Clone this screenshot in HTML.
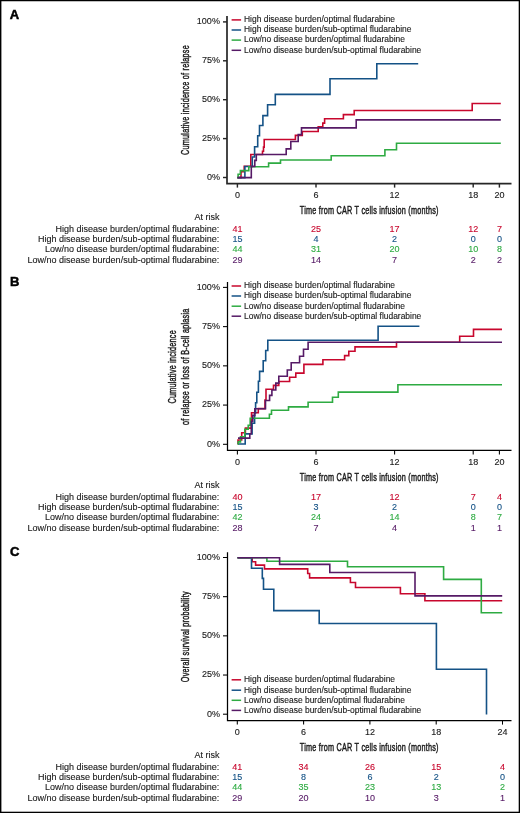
<!DOCTYPE html><html><head><meta charset="utf-8"><style>html,body{margin:0;padding:0;background:#fff;}svg{display:block;}</style></head><body>
<svg style="filter:opacity(0.999)" width="520" height="813" viewBox="0 0 520 813" font-family="'Liberation Sans', sans-serif">
<rect x="0" y="0" width="520" height="813" fill="#fff"/>
<text x="9.80" y="18.80" font-size="13" text-anchor="start" fill="#000" stroke="#000" stroke-width="0.5" font-weight="bold" >A</text>
<path d="M227,15.90V183.60H511.5" fill="none" stroke="#262626" stroke-width="1.7" stroke-linejoin="miter"/>
<path d="M223,177.50H227" stroke="#262626" stroke-width="1.44"/>
<text x="219.90" y="179.90" font-size="9" text-anchor="end" fill="#1a1a1a" stroke="#1a1a1a" stroke-width="0.12" font-weight="normal" >0%</text>
<path d="M223,138.60H227" stroke="#262626" stroke-width="1.44"/>
<text x="219.90" y="141.00" font-size="9" text-anchor="end" fill="#1a1a1a" stroke="#1a1a1a" stroke-width="0.12" font-weight="normal" >25%</text>
<path d="M223,99.70H227" stroke="#262626" stroke-width="1.44"/>
<text x="219.90" y="102.10" font-size="9" text-anchor="end" fill="#1a1a1a" stroke="#1a1a1a" stroke-width="0.12" font-weight="normal" >50%</text>
<path d="M223,60.80H227" stroke="#262626" stroke-width="1.44"/>
<text x="219.90" y="63.20" font-size="9" text-anchor="end" fill="#1a1a1a" stroke="#1a1a1a" stroke-width="0.12" font-weight="normal" >75%</text>
<path d="M223,21.90H227" stroke="#262626" stroke-width="1.44"/>
<text x="219.90" y="24.30" font-size="9" text-anchor="end" fill="#1a1a1a" stroke="#1a1a1a" stroke-width="0.12" font-weight="normal" >100%</text>
<path d="M237.40,183.60V187.60" stroke="#262626" stroke-width="1.44"/>
<text x="237.40" y="198.40" font-size="9" text-anchor="middle" fill="#1a1a1a" stroke="#1a1a1a" stroke-width="0.12" font-weight="normal" >0</text>
<path d="M316.00,183.60V187.60" stroke="#262626" stroke-width="1.44"/>
<text x="316.00" y="198.40" font-size="9" text-anchor="middle" fill="#1a1a1a" stroke="#1a1a1a" stroke-width="0.12" font-weight="normal" >6</text>
<path d="M394.60,183.60V187.60" stroke="#262626" stroke-width="1.44"/>
<text x="394.60" y="198.40" font-size="9" text-anchor="middle" fill="#1a1a1a" stroke="#1a1a1a" stroke-width="0.12" font-weight="normal" >12</text>
<path d="M473.20,183.60V187.60" stroke="#262626" stroke-width="1.44"/>
<text x="473.20" y="198.40" font-size="9" text-anchor="middle" fill="#1a1a1a" stroke="#1a1a1a" stroke-width="0.12" font-weight="normal" >18</text>
<path d="M499.40,183.60V187.60" stroke="#262626" stroke-width="1.44"/>
<text x="499.40" y="198.40" font-size="9" text-anchor="middle" fill="#1a1a1a" stroke="#1a1a1a" stroke-width="0.12" font-weight="normal" >20</text>
<g transform="translate(189.30,100.00) rotate(-90) scale(0.66,1)"><text x="0" y="0" font-size="11" text-anchor="middle" letter-spacing="0.35" fill="#1a1a1a" stroke="#1a1a1a" stroke-width="0.45">Cumulative incidence of relapse</text></g>
<g transform="translate(369.30,213.60) rotate(0) scale(0.66,1)"><text x="0" y="0" font-size="11" text-anchor="middle" letter-spacing="0.35" fill="#1a1a1a" stroke="#1a1a1a" stroke-width="0.45">Time from CAR T cells infusion (months)</text></g>
<path d="M237.40,177.60H241.00V171.70H244.20V166.20H250.80V154.50H262.50V151.30H263.50V147.10H264.20V139.50H295.40V135.40H302.30V131.50H318.20V126.90H322.80V123.10H324.60V118.80H343.40V114.60H354.20V110.50H472.20V103.50H500.80" fill="none" stroke="#c8072d" stroke-width="1.6" stroke-linejoin="miter" stroke-linecap="butt"/>
<path d="M237.40,177.60H244.90V166.50H252.30V157.00H254.60V146.70H257.70V135.80H259.50V125.50H262.90V115.60H267.60V104.80H275.30V94.40H330.00V78.80H376.80V63.80H418.20" fill="none" stroke="#145286" stroke-width="1.6" stroke-linejoin="miter" stroke-linecap="butt"/>
<path d="M237.40,177.60H238.10V174.20H240.40V170.60H248.80V166.80H268.60V163.10H280.50V160.00H331.20V155.70H384.90V149.70H396.50V143.30H500.80" fill="none" stroke="#2eab42" stroke-width="1.6" stroke-linejoin="miter" stroke-linecap="butt"/>
<path d="M237.40,177.60H251.30V166.40H254.80V160.40H256.30V154.50H286.20V148.90H290.80V141.50H298.20V134.60H301.50V127.90H356.20V119.90H500.80" fill="none" stroke="#561a66" stroke-width="1.6" stroke-linejoin="miter" stroke-linecap="butt"/>
<path d="M231.6,19.90H241.1" stroke="#c8072d" stroke-width="1.5"/>
<text x="244.00" y="22.20" font-size="8.45" text-anchor="start" fill="#1a1a1a" stroke="#1a1a1a" stroke-width="0.12" font-weight="normal" >High disease burden/optimal fludarabine</text>
<path d="M231.6,30.00H241.1" stroke="#145286" stroke-width="1.5"/>
<text x="244.00" y="32.30" font-size="8.45" text-anchor="start" fill="#1a1a1a" stroke="#1a1a1a" stroke-width="0.12" font-weight="normal" >High disease burden/sub-optimal fludarabine</text>
<path d="M231.6,40.10H241.1" stroke="#2eab42" stroke-width="1.5"/>
<text x="244.00" y="42.40" font-size="8.45" text-anchor="start" fill="#1a1a1a" stroke="#1a1a1a" stroke-width="0.12" font-weight="normal" >Low/no disease burden/optimal fludarabine</text>
<path d="M231.6,50.30H241.1" stroke="#561a66" stroke-width="1.5"/>
<text x="244.00" y="52.60" font-size="8.45" text-anchor="start" fill="#1a1a1a" stroke="#1a1a1a" stroke-width="0.12" font-weight="normal" >Low/no disease burden/sub-optimal fludarabine</text>
<text x="219.40" y="219.80" font-size="9" text-anchor="end" fill="#1a1a1a" stroke="#1a1a1a" stroke-width="0.12" font-weight="normal" >At risk</text>
<text x="219.20" y="232.20" font-size="9" text-anchor="end" fill="#1a1a1a" stroke="#1a1a1a" stroke-width="0.12" font-weight="normal" >High disease burden/optimal fludarabine:</text>
<text x="237.40" y="232.20" font-size="9" text-anchor="middle" fill="#c8072d" stroke="#c8072d" stroke-width="0.12" font-weight="normal" >41</text>
<text x="316.00" y="232.20" font-size="9" text-anchor="middle" fill="#c8072d" stroke="#c8072d" stroke-width="0.12" font-weight="normal" >25</text>
<text x="394.60" y="232.20" font-size="9" text-anchor="middle" fill="#c8072d" stroke="#c8072d" stroke-width="0.12" font-weight="normal" >17</text>
<text x="473.20" y="232.20" font-size="9" text-anchor="middle" fill="#c8072d" stroke="#c8072d" stroke-width="0.12" font-weight="normal" >12</text>
<text x="499.40" y="232.20" font-size="9" text-anchor="middle" fill="#c8072d" stroke="#c8072d" stroke-width="0.12" font-weight="normal" >7</text>
<text x="219.20" y="242.40" font-size="9" text-anchor="end" fill="#1a1a1a" stroke="#1a1a1a" stroke-width="0.12" font-weight="normal" >High disease burden/sub-optimal fludarabine:</text>
<text x="237.40" y="242.40" font-size="9" text-anchor="middle" fill="#145286" stroke="#145286" stroke-width="0.12" font-weight="normal" >15</text>
<text x="316.00" y="242.40" font-size="9" text-anchor="middle" fill="#145286" stroke="#145286" stroke-width="0.12" font-weight="normal" >4</text>
<text x="394.60" y="242.40" font-size="9" text-anchor="middle" fill="#145286" stroke="#145286" stroke-width="0.12" font-weight="normal" >2</text>
<text x="473.20" y="242.40" font-size="9" text-anchor="middle" fill="#145286" stroke="#145286" stroke-width="0.12" font-weight="normal" >0</text>
<text x="499.40" y="242.40" font-size="9" text-anchor="middle" fill="#145286" stroke="#145286" stroke-width="0.12" font-weight="normal" >0</text>
<text x="219.20" y="252.40" font-size="9" text-anchor="end" fill="#1a1a1a" stroke="#1a1a1a" stroke-width="0.12" font-weight="normal" >Low/no disease burden/optimal fludarabine:</text>
<text x="237.40" y="252.40" font-size="9" text-anchor="middle" fill="#2eab42" stroke="#2eab42" stroke-width="0.12" font-weight="normal" >44</text>
<text x="316.00" y="252.40" font-size="9" text-anchor="middle" fill="#2eab42" stroke="#2eab42" stroke-width="0.12" font-weight="normal" >31</text>
<text x="394.60" y="252.40" font-size="9" text-anchor="middle" fill="#2eab42" stroke="#2eab42" stroke-width="0.12" font-weight="normal" >20</text>
<text x="473.20" y="252.40" font-size="9" text-anchor="middle" fill="#2eab42" stroke="#2eab42" stroke-width="0.12" font-weight="normal" >10</text>
<text x="499.40" y="252.40" font-size="9" text-anchor="middle" fill="#2eab42" stroke="#2eab42" stroke-width="0.12" font-weight="normal" >8</text>
<text x="219.20" y="262.50" font-size="9" text-anchor="end" fill="#1a1a1a" stroke="#1a1a1a" stroke-width="0.12" font-weight="normal" >Low/no disease burden/sub-optimal fludarabine:</text>
<text x="237.40" y="262.50" font-size="9" text-anchor="middle" fill="#561a66" stroke="#561a66" stroke-width="0.12" font-weight="normal" >29</text>
<text x="316.00" y="262.50" font-size="9" text-anchor="middle" fill="#561a66" stroke="#561a66" stroke-width="0.12" font-weight="normal" >14</text>
<text x="394.60" y="262.50" font-size="9" text-anchor="middle" fill="#561a66" stroke="#561a66" stroke-width="0.12" font-weight="normal" >7</text>
<text x="473.20" y="262.50" font-size="9" text-anchor="middle" fill="#561a66" stroke="#561a66" stroke-width="0.12" font-weight="normal" >2</text>
<text x="499.40" y="262.50" font-size="9" text-anchor="middle" fill="#561a66" stroke="#561a66" stroke-width="0.12" font-weight="normal" >2</text>
<text x="10.00" y="285.90" font-size="13" text-anchor="start" fill="#000" stroke="#000" stroke-width="0.5" font-weight="bold" >B</text>
<path d="M227.5,281.90V450.40H511.5" fill="none" stroke="#000" stroke-width="1.25" stroke-linejoin="miter"/>
<path d="M223,444.30H227.5" stroke="#000" stroke-width="1.06"/>
<text x="219.90" y="446.70" font-size="9" text-anchor="end" fill="#1a1a1a" stroke="#1a1a1a" stroke-width="0.12" font-weight="normal" >0%</text>
<path d="M223,405.07H227.5" stroke="#000" stroke-width="1.06"/>
<text x="219.90" y="407.47" font-size="9" text-anchor="end" fill="#1a1a1a" stroke="#1a1a1a" stroke-width="0.12" font-weight="normal" >25%</text>
<path d="M223,365.85H227.5" stroke="#000" stroke-width="1.06"/>
<text x="219.90" y="368.25" font-size="9" text-anchor="end" fill="#1a1a1a" stroke="#1a1a1a" stroke-width="0.12" font-weight="normal" >50%</text>
<path d="M223,326.62H227.5" stroke="#000" stroke-width="1.06"/>
<text x="219.90" y="329.02" font-size="9" text-anchor="end" fill="#1a1a1a" stroke="#1a1a1a" stroke-width="0.12" font-weight="normal" >75%</text>
<path d="M223,287.40H227.5" stroke="#000" stroke-width="1.06"/>
<text x="219.90" y="289.80" font-size="9" text-anchor="end" fill="#1a1a1a" stroke="#1a1a1a" stroke-width="0.12" font-weight="normal" >100%</text>
<path d="M237.40,450.40V454.40" stroke="#000" stroke-width="1.06"/>
<text x="237.40" y="465.20" font-size="9" text-anchor="middle" fill="#1a1a1a" stroke="#1a1a1a" stroke-width="0.12" font-weight="normal" >0</text>
<path d="M316.00,450.40V454.40" stroke="#000" stroke-width="1.06"/>
<text x="316.00" y="465.20" font-size="9" text-anchor="middle" fill="#1a1a1a" stroke="#1a1a1a" stroke-width="0.12" font-weight="normal" >6</text>
<path d="M394.60,450.40V454.40" stroke="#000" stroke-width="1.06"/>
<text x="394.60" y="465.20" font-size="9" text-anchor="middle" fill="#1a1a1a" stroke="#1a1a1a" stroke-width="0.12" font-weight="normal" >12</text>
<path d="M473.20,450.40V454.40" stroke="#000" stroke-width="1.06"/>
<text x="473.20" y="465.20" font-size="9" text-anchor="middle" fill="#1a1a1a" stroke="#1a1a1a" stroke-width="0.12" font-weight="normal" >18</text>
<path d="M499.40,450.40V454.40" stroke="#000" stroke-width="1.06"/>
<text x="499.40" y="465.20" font-size="9" text-anchor="middle" fill="#1a1a1a" stroke="#1a1a1a" stroke-width="0.12" font-weight="normal" >20</text>
<g transform="translate(175.70,366.80) rotate(-90) scale(0.66,1)"><text x="0" y="0" font-size="11" text-anchor="middle" letter-spacing="0.35" fill="#1a1a1a" stroke="#1a1a1a" stroke-width="0.45">Cumulative incidence</text></g>
<g transform="translate(188.90,366.80) rotate(-90) scale(0.66,1)"><text x="0" y="0" font-size="11" text-anchor="middle" letter-spacing="0.35" fill="#1a1a1a" stroke="#1a1a1a" stroke-width="0.45">of relapse or loss of B-cell aplasia</text></g>
<g transform="translate(369.30,480.60) rotate(0) scale(0.66,1)"><text x="0" y="0" font-size="11" text-anchor="middle" letter-spacing="0.35" fill="#1a1a1a" stroke="#1a1a1a" stroke-width="0.45">Time from CAR T cells infusion (months)</text></g>
<path d="M237.70,444.00H238.00V440.00H241.70V432.70H245.40V428.10H251.50V412.70H258.30V408.60H265.00V400.00H266.00V389.30H273.50V385.40H278.80V381.50H289.60V377.20H295.80V373.10H303.90V364.40H322.90V359.80H344.60V355.60H348.80V351.20H355.00V346.90H396.50V342.30H459.70V336.20H473.50V329.40H502.00" fill="none" stroke="#c8072d" stroke-width="1.6" stroke-linejoin="miter" stroke-linecap="butt"/>
<path d="M237.70,444.00H245.20V433.90H252.10V423.20H254.60V413.00H255.60V402.80H256.80V392.20H258.40V381.30H259.60V371.40H263.20V360.70H265.70V350.50H267.80V340.20H378.10V326.20H419.40" fill="none" stroke="#145286" stroke-width="1.6" stroke-linejoin="miter" stroke-linecap="butt"/>
<path d="M237.70,444.00H238.20V441.90H240.50V436.80H244.80V429.20H248.20V425.40H250.20V418.20H269.40V414.20H271.50V410.20H288.50V406.90H308.10V402.30H332.50V397.30H338.30V392.10H397.90V384.80H502.00" fill="none" stroke="#2eab42" stroke-width="1.6" stroke-linejoin="miter" stroke-linecap="butt"/>
<path d="M238.00,438.10H249.80V433.80H251.30V421.50H252.80V415.40H254.80V408.80H265.50V400.50H269.60V395.40H271.90V390.00H275.80V383.10H278.80V376.20H287.30V370.00H291.20V362.80H299.60V356.20H303.50V349.20H308.10V342.20H502.00" fill="none" stroke="#561a66" stroke-width="1.6" stroke-linejoin="miter" stroke-linecap="butt"/>
<path d="M231.6,286.00H241.1" stroke="#c8072d" stroke-width="1.5"/>
<text x="244.00" y="288.30" font-size="8.45" text-anchor="start" fill="#1a1a1a" stroke="#1a1a1a" stroke-width="0.12" font-weight="normal" >High disease burden/optimal fludarabine</text>
<path d="M231.6,296.00H241.1" stroke="#145286" stroke-width="1.5"/>
<text x="244.00" y="298.30" font-size="8.45" text-anchor="start" fill="#1a1a1a" stroke="#1a1a1a" stroke-width="0.12" font-weight="normal" >High disease burden/sub-optimal fludarabine</text>
<path d="M231.6,306.20H241.1" stroke="#2eab42" stroke-width="1.5"/>
<text x="244.00" y="308.50" font-size="8.45" text-anchor="start" fill="#1a1a1a" stroke="#1a1a1a" stroke-width="0.12" font-weight="normal" >Low/no disease burden/optimal fludarabine</text>
<path d="M231.6,316.20H241.1" stroke="#561a66" stroke-width="1.5"/>
<text x="244.00" y="318.50" font-size="8.45" text-anchor="start" fill="#1a1a1a" stroke="#1a1a1a" stroke-width="0.12" font-weight="normal" >Low/no disease burden/sub-optimal fludarabine</text>
<text x="219.40" y="487.80" font-size="9" text-anchor="end" fill="#1a1a1a" stroke="#1a1a1a" stroke-width="0.12" font-weight="normal" >At risk</text>
<text x="219.20" y="500.20" font-size="9" text-anchor="end" fill="#1a1a1a" stroke="#1a1a1a" stroke-width="0.12" font-weight="normal" >High disease burden/optimal fludarabine:</text>
<text x="237.40" y="500.20" font-size="9" text-anchor="middle" fill="#c8072d" stroke="#c8072d" stroke-width="0.12" font-weight="normal" >40</text>
<text x="316.00" y="500.20" font-size="9" text-anchor="middle" fill="#c8072d" stroke="#c8072d" stroke-width="0.12" font-weight="normal" >17</text>
<text x="394.60" y="500.20" font-size="9" text-anchor="middle" fill="#c8072d" stroke="#c8072d" stroke-width="0.12" font-weight="normal" >12</text>
<text x="473.20" y="500.20" font-size="9" text-anchor="middle" fill="#c8072d" stroke="#c8072d" stroke-width="0.12" font-weight="normal" >7</text>
<text x="499.40" y="500.20" font-size="9" text-anchor="middle" fill="#c8072d" stroke="#c8072d" stroke-width="0.12" font-weight="normal" >4</text>
<text x="219.20" y="510.40" font-size="9" text-anchor="end" fill="#1a1a1a" stroke="#1a1a1a" stroke-width="0.12" font-weight="normal" >High disease burden/sub-optimal fludarabine:</text>
<text x="237.40" y="510.40" font-size="9" text-anchor="middle" fill="#145286" stroke="#145286" stroke-width="0.12" font-weight="normal" >15</text>
<text x="316.00" y="510.40" font-size="9" text-anchor="middle" fill="#145286" stroke="#145286" stroke-width="0.12" font-weight="normal" >3</text>
<text x="394.60" y="510.40" font-size="9" text-anchor="middle" fill="#145286" stroke="#145286" stroke-width="0.12" font-weight="normal" >2</text>
<text x="473.20" y="510.40" font-size="9" text-anchor="middle" fill="#145286" stroke="#145286" stroke-width="0.12" font-weight="normal" >0</text>
<text x="499.40" y="510.40" font-size="9" text-anchor="middle" fill="#145286" stroke="#145286" stroke-width="0.12" font-weight="normal" >0</text>
<text x="219.20" y="520.40" font-size="9" text-anchor="end" fill="#1a1a1a" stroke="#1a1a1a" stroke-width="0.12" font-weight="normal" >Low/no disease burden/optimal fludarabine:</text>
<text x="237.40" y="520.40" font-size="9" text-anchor="middle" fill="#2eab42" stroke="#2eab42" stroke-width="0.12" font-weight="normal" >42</text>
<text x="316.00" y="520.40" font-size="9" text-anchor="middle" fill="#2eab42" stroke="#2eab42" stroke-width="0.12" font-weight="normal" >24</text>
<text x="394.60" y="520.40" font-size="9" text-anchor="middle" fill="#2eab42" stroke="#2eab42" stroke-width="0.12" font-weight="normal" >14</text>
<text x="473.20" y="520.40" font-size="9" text-anchor="middle" fill="#2eab42" stroke="#2eab42" stroke-width="0.12" font-weight="normal" >8</text>
<text x="499.40" y="520.40" font-size="9" text-anchor="middle" fill="#2eab42" stroke="#2eab42" stroke-width="0.12" font-weight="normal" >7</text>
<text x="219.20" y="530.50" font-size="9" text-anchor="end" fill="#1a1a1a" stroke="#1a1a1a" stroke-width="0.12" font-weight="normal" >Low/no disease burden/sub-optimal fludarabine:</text>
<text x="237.40" y="530.50" font-size="9" text-anchor="middle" fill="#561a66" stroke="#561a66" stroke-width="0.12" font-weight="normal" >28</text>
<text x="316.00" y="530.50" font-size="9" text-anchor="middle" fill="#561a66" stroke="#561a66" stroke-width="0.12" font-weight="normal" >7</text>
<text x="394.60" y="530.50" font-size="9" text-anchor="middle" fill="#561a66" stroke="#561a66" stroke-width="0.12" font-weight="normal" >4</text>
<text x="473.20" y="530.50" font-size="9" text-anchor="middle" fill="#561a66" stroke="#561a66" stroke-width="0.12" font-weight="normal" >1</text>
<text x="499.40" y="530.50" font-size="9" text-anchor="middle" fill="#561a66" stroke="#561a66" stroke-width="0.12" font-weight="normal" >1</text>
<text x="10.00" y="556.30" font-size="13" text-anchor="start" fill="#000" stroke="#000" stroke-width="0.5" font-weight="bold" >C</text>
<path d="M227.5,552.20V720.60H511.5" fill="none" stroke="#000" stroke-width="1.25" stroke-linejoin="miter"/>
<path d="M223,714.20H227.5" stroke="#000" stroke-width="1.06"/>
<text x="219.90" y="716.60" font-size="9" text-anchor="end" fill="#1a1a1a" stroke="#1a1a1a" stroke-width="0.12" font-weight="normal" >0%</text>
<path d="M223,675.03H227.5" stroke="#000" stroke-width="1.06"/>
<text x="219.90" y="677.43" font-size="9" text-anchor="end" fill="#1a1a1a" stroke="#1a1a1a" stroke-width="0.12" font-weight="normal" >25%</text>
<path d="M223,635.85H227.5" stroke="#000" stroke-width="1.06"/>
<text x="219.90" y="638.25" font-size="9" text-anchor="end" fill="#1a1a1a" stroke="#1a1a1a" stroke-width="0.12" font-weight="normal" >50%</text>
<path d="M223,596.67H227.5" stroke="#000" stroke-width="1.06"/>
<text x="219.90" y="599.07" font-size="9" text-anchor="end" fill="#1a1a1a" stroke="#1a1a1a" stroke-width="0.12" font-weight="normal" >75%</text>
<path d="M223,557.50H227.5" stroke="#000" stroke-width="1.06"/>
<text x="219.90" y="559.90" font-size="9" text-anchor="end" fill="#1a1a1a" stroke="#1a1a1a" stroke-width="0.12" font-weight="normal" >100%</text>
<path d="M237.30,720.60V724.60" stroke="#000" stroke-width="1.06"/>
<text x="237.30" y="735.40" font-size="9" text-anchor="middle" fill="#1a1a1a" stroke="#1a1a1a" stroke-width="0.12" font-weight="normal" >0</text>
<path d="M303.60,720.60V724.60" stroke="#000" stroke-width="1.06"/>
<text x="303.60" y="735.40" font-size="9" text-anchor="middle" fill="#1a1a1a" stroke="#1a1a1a" stroke-width="0.12" font-weight="normal" >6</text>
<path d="M369.90,720.60V724.60" stroke="#000" stroke-width="1.06"/>
<text x="369.90" y="735.40" font-size="9" text-anchor="middle" fill="#1a1a1a" stroke="#1a1a1a" stroke-width="0.12" font-weight="normal" >12</text>
<path d="M436.20,720.60V724.60" stroke="#000" stroke-width="1.06"/>
<text x="436.20" y="735.40" font-size="9" text-anchor="middle" fill="#1a1a1a" stroke="#1a1a1a" stroke-width="0.12" font-weight="normal" >18</text>
<path d="M502.50,720.60V724.60" stroke="#000" stroke-width="1.06"/>
<text x="502.50" y="735.40" font-size="9" text-anchor="middle" fill="#1a1a1a" stroke="#1a1a1a" stroke-width="0.12" font-weight="normal" >24</text>
<g transform="translate(188.80,636.70) rotate(-90) scale(0.66,1)"><text x="0" y="0" font-size="11" text-anchor="middle" letter-spacing="0.35" fill="#1a1a1a" stroke="#1a1a1a" stroke-width="0.45">Overall survival probability</text></g>
<g transform="translate(369.30,750.60) rotate(0) scale(0.66,1)"><text x="0" y="0" font-size="11" text-anchor="middle" letter-spacing="0.35" fill="#1a1a1a" stroke="#1a1a1a" stroke-width="0.45">Time from CAR T cells infusion (months)</text></g>
<path d="M237.50,557.70H252.20V561.80H255.60V565.10H264.50V568.90H307.70V573.50H309.60V577.90H350.40V582.50H355.50V587.50H400.40V593.80H424.90V600.80H502.20" fill="none" stroke="#c8072d" stroke-width="1.6" stroke-linejoin="miter" stroke-linecap="butt"/>
<path d="M237.50,557.70H251.50V568.20H262.30V578.40H263.50V589.20H273.80V610.60H319.20V623.50H436.40V669.20H486.50V714.60" fill="none" stroke="#145286" stroke-width="1.6" stroke-linejoin="miter" stroke-linecap="butt"/>
<path d="M237.50,557.70H266.90V561.20H347.50V566.80H443.60V579.40H481.30V612.80H502.20" fill="none" stroke="#2eab42" stroke-width="1.6" stroke-linejoin="miter" stroke-linecap="butt"/>
<path d="M237.50,557.70H279.60V564.40H329.80V572.50H415.00V595.90H502.20" fill="none" stroke="#561a66" stroke-width="1.6" stroke-linejoin="miter" stroke-linecap="butt"/>
<path d="M231.6,679.80H241.1" stroke="#c8072d" stroke-width="1.5"/>
<text x="244.00" y="682.10" font-size="8.45" text-anchor="start" fill="#1a1a1a" stroke="#1a1a1a" stroke-width="0.12" font-weight="normal" >High disease burden/optimal fludarabine</text>
<path d="M231.6,690.20H241.1" stroke="#145286" stroke-width="1.5"/>
<text x="244.00" y="692.50" font-size="8.45" text-anchor="start" fill="#1a1a1a" stroke="#1a1a1a" stroke-width="0.12" font-weight="normal" >High disease burden/sub-optimal fludarabine</text>
<path d="M231.6,700.30H241.1" stroke="#2eab42" stroke-width="1.5"/>
<text x="244.00" y="702.60" font-size="8.45" text-anchor="start" fill="#1a1a1a" stroke="#1a1a1a" stroke-width="0.12" font-weight="normal" >Low/no disease burden/optimal fludarabine</text>
<path d="M231.6,710.40H241.1" stroke="#561a66" stroke-width="1.5"/>
<text x="244.00" y="712.70" font-size="8.45" text-anchor="start" fill="#1a1a1a" stroke="#1a1a1a" stroke-width="0.12" font-weight="normal" >Low/no disease burden/sub-optimal fludarabine</text>
<text x="219.40" y="757.50" font-size="9" text-anchor="end" fill="#1a1a1a" stroke="#1a1a1a" stroke-width="0.12" font-weight="normal" >At risk</text>
<text x="219.20" y="770.20" font-size="9" text-anchor="end" fill="#1a1a1a" stroke="#1a1a1a" stroke-width="0.12" font-weight="normal" >High disease burden/optimal fludarabine:</text>
<text x="237.30" y="770.20" font-size="9" text-anchor="middle" fill="#c8072d" stroke="#c8072d" stroke-width="0.12" font-weight="normal" >41</text>
<text x="303.60" y="770.20" font-size="9" text-anchor="middle" fill="#c8072d" stroke="#c8072d" stroke-width="0.12" font-weight="normal" >34</text>
<text x="369.90" y="770.20" font-size="9" text-anchor="middle" fill="#c8072d" stroke="#c8072d" stroke-width="0.12" font-weight="normal" >26</text>
<text x="436.20" y="770.20" font-size="9" text-anchor="middle" fill="#c8072d" stroke="#c8072d" stroke-width="0.12" font-weight="normal" >15</text>
<text x="502.50" y="770.20" font-size="9" text-anchor="middle" fill="#c8072d" stroke="#c8072d" stroke-width="0.12" font-weight="normal" >4</text>
<text x="219.20" y="780.20" font-size="9" text-anchor="end" fill="#1a1a1a" stroke="#1a1a1a" stroke-width="0.12" font-weight="normal" >High disease burden/sub-optimal fludarabine:</text>
<text x="237.30" y="780.20" font-size="9" text-anchor="middle" fill="#145286" stroke="#145286" stroke-width="0.12" font-weight="normal" >15</text>
<text x="303.60" y="780.20" font-size="9" text-anchor="middle" fill="#145286" stroke="#145286" stroke-width="0.12" font-weight="normal" >8</text>
<text x="369.90" y="780.20" font-size="9" text-anchor="middle" fill="#145286" stroke="#145286" stroke-width="0.12" font-weight="normal" >6</text>
<text x="436.20" y="780.20" font-size="9" text-anchor="middle" fill="#145286" stroke="#145286" stroke-width="0.12" font-weight="normal" >2</text>
<text x="502.50" y="780.20" font-size="9" text-anchor="middle" fill="#145286" stroke="#145286" stroke-width="0.12" font-weight="normal" >0</text>
<text x="219.20" y="790.30" font-size="9" text-anchor="end" fill="#1a1a1a" stroke="#1a1a1a" stroke-width="0.12" font-weight="normal" >Low/no disease burden/optimal fludarabine:</text>
<text x="237.30" y="790.30" font-size="9" text-anchor="middle" fill="#2eab42" stroke="#2eab42" stroke-width="0.12" font-weight="normal" >44</text>
<text x="303.60" y="790.30" font-size="9" text-anchor="middle" fill="#2eab42" stroke="#2eab42" stroke-width="0.12" font-weight="normal" >35</text>
<text x="369.90" y="790.30" font-size="9" text-anchor="middle" fill="#2eab42" stroke="#2eab42" stroke-width="0.12" font-weight="normal" >23</text>
<text x="436.20" y="790.30" font-size="9" text-anchor="middle" fill="#2eab42" stroke="#2eab42" stroke-width="0.12" font-weight="normal" >13</text>
<text x="502.50" y="790.30" font-size="9" text-anchor="middle" fill="#2eab42" stroke="#2eab42" stroke-width="0.12" font-weight="normal" >2</text>
<text x="219.20" y="800.50" font-size="9" text-anchor="end" fill="#1a1a1a" stroke="#1a1a1a" stroke-width="0.12" font-weight="normal" >Low/no disease burden/sub-optimal fludarabine:</text>
<text x="237.30" y="800.50" font-size="9" text-anchor="middle" fill="#561a66" stroke="#561a66" stroke-width="0.12" font-weight="normal" >29</text>
<text x="303.60" y="800.50" font-size="9" text-anchor="middle" fill="#561a66" stroke="#561a66" stroke-width="0.12" font-weight="normal" >20</text>
<text x="369.90" y="800.50" font-size="9" text-anchor="middle" fill="#561a66" stroke="#561a66" stroke-width="0.12" font-weight="normal" >10</text>
<text x="436.20" y="800.50" font-size="9" text-anchor="middle" fill="#561a66" stroke="#561a66" stroke-width="0.12" font-weight="normal" >3</text>
<text x="502.50" y="800.50" font-size="9" text-anchor="middle" fill="#561a66" stroke="#561a66" stroke-width="0.12" font-weight="normal" >1</text>
<rect x="0" y="0" width="520" height="1.25" fill="#000"/><rect x="0" y="0" width="1.4" height="813" fill="#000"/><rect x="518.7" y="0" width="1.3" height="813" fill="#000"/><rect x="0" y="811.7" width="520" height="1.3" fill="#000"/>
</svg></body></html>
